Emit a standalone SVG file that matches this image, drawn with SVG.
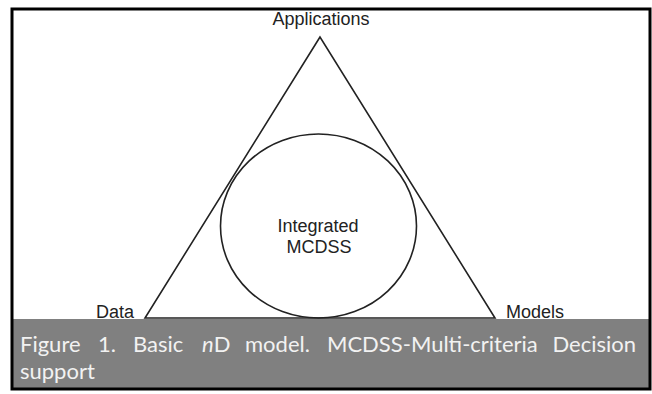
<svg xmlns="http://www.w3.org/2000/svg" width="652" height="394" viewBox="0 0 652 394">
<style>
.lbl{font-family:"Liberation Sans",Arial,sans-serif;font-size:18px;fill:#222}
.shape{fill:none;stroke:#222;stroke-width:1.6}
.cap{font-family:Lato,"Open Sans",sans-serif;font-size:22px;fill:#f2f2f2}
</style>
<rect x="0" y="0" width="652" height="394" fill="#fff"/>
<g id="connectors">
<polygon class="shape" points="320,37 145,318 495,318"/>
</g>
<g id="node-applications"><text class="lbl" x="321" y="25" text-anchor="middle">Applications</text></g>
<g id="node-data"><text class="lbl" x="115" y="318" text-anchor="middle">Data</text></g>
<g id="node-models"><text class="lbl" x="535" y="318" text-anchor="middle">Models</text></g>
<g id="node-integrated">
<ellipse class="shape" cx="318.5" cy="226" rx="98" ry="92"/>
<text class="lbl" x="318" y="232" text-anchor="middle">Integrated</text>
<text class="lbl" x="319" y="253" text-anchor="middle">MCDSS</text>
</g>
<g id="caption">
<rect x="12" y="319" width="638" height="70" fill="#808080"/>
<text class="cap" y="352"><tspan x="20">Figure</tspan><tspan x="98">1.</tspan><tspan x="133">Basic</tspan><tspan x="202" font-style="italic">n</tspan><tspan>D</tspan><tspan x="245">model.</tspan><tspan x="327">MCDSS-Multi-criteria</tspan></text>
<text class="cap" x="636" y="352" text-anchor="end">Decision</text>
<text class="cap" x="20" y="379">support</text>
</g>
<rect x="12" y="9" width="638" height="380" fill="none" stroke="#000" stroke-width="3"/>
</svg>
